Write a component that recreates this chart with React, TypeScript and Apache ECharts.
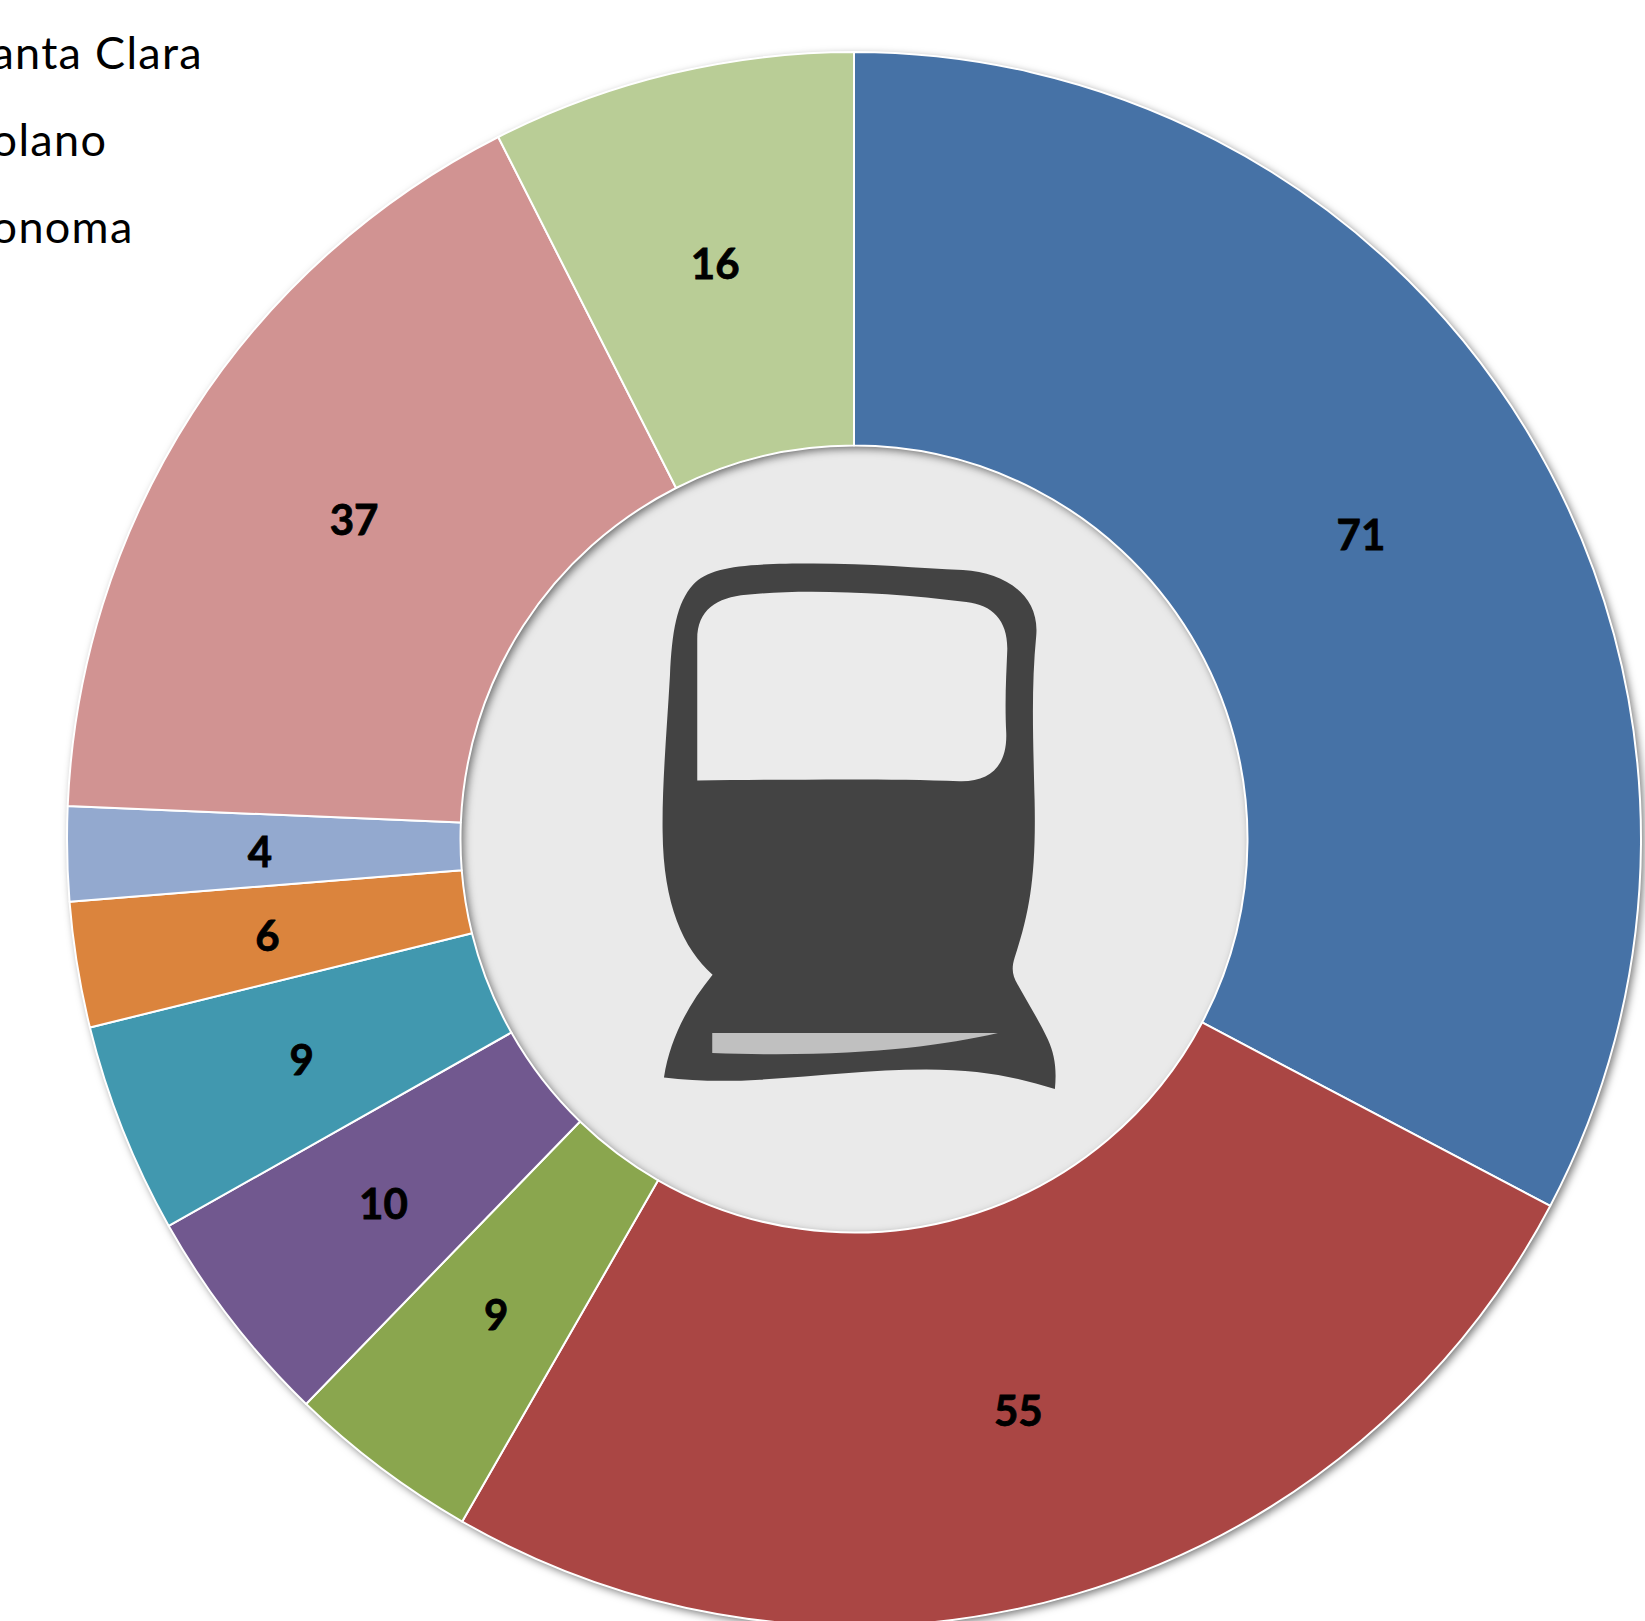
import React, { useEffect, useRef } from "react";
import * as echarts from "echarts";

const categories = ["Alameda", "Contra Costa", "Marin", "Napa", "San Francisco", "San Mateo", "Santa Clara", "Solano", "Sonoma"];
const values = [71, 55.49, 8.6, 9.9, 9.4, 5.6, 4.2, 36.6, 16.2];
const colors = ["#4672A6", "#AA4644", "#8AA64E", "#71588F", "#4198AF", "#DB843D", "#93A9CF", "#D19392", "#B9CD96"];
const legendEntries = ["Santa Clara", "Solano", "Sonoma"];

const bodyPath =
  "M132 1504C150 1400 200 1310 278 1222C190 1150 130 1030 128 830C126 700 140 560 150 400C156 280 170 200 220 150C270 100 380 92 580 92C750 92 900 105 1030 110C1160 118 1260 180 1250 290C1235 430 1240 560 1245 740C1250 950 1230 1050 1185 1175C1175 1205 1178 1225 1195 1250C1225 1300 1260 1350 1285 1400C1305 1440 1312 1480 1306 1536C1200 1505 1090 1482 920 1482C750 1482 600 1500 420 1510C320 1516 220 1514 132 1504Z";
const windowPath =
  "M232 688L232 300C232 220 290 185 380 178C540 162 800 170 1040 198C1120 206 1165 250 1163 330C1160 400 1155 470 1160 560C1162 650 1110 692 1020 690C800 682 500 686 232 688Z";
const stripePath = "M277 1382L1135 1382C950 1420 700 1450 277 1437Z";

echarts.graphic.registerShape("trainBody", echarts.graphic.extendPath(bodyPath, {}));
echarts.graphic.registerShape("trainWindow", echarts.graphic.extendPath(windowPath, {}));
echarts.graphic.registerShape("trainStripe", echarts.graphic.extendPath(stripePath, {}));

export default function App() {
  const ref = useRef<HTMLDivElement>(null);
  useEffect(() => {
    document.body.style.margin = "0";
    const chart = echarts.init(ref.current!, null, { renderer: "svg" });
    const shape = (type: string, fill: string) => ({
      type,
      x: 620,
      y: 530,
      scaleX: 1 / 3,
      scaleY: 570 / 1568,
      z: 100,
      style: { fill },
    });
    const center = [854, 839];
    const radius = [393.5, 787];
    chart.setOption({
      animation: false,
      backgroundColor: "#ffffff",
      color: colors,
      legend: {
        show: true,
        data: legendEntries,
        orient: "vertical",
        left: -75,
        top: 24,
        itemWidth: 30,
        itemHeight: 30,
        itemGap: 42,
        icon: "rect",
        selectedMode: false,
        textStyle: { fontFamily: "Lato", fontSize: 45, color: "#000000" },
      },
      series: [
        {
          type: "pie",
          z: 2,
          silent: true,
          center,
          radius,
          label: { show: false },
          labelLine: { show: false },
          data: [{ value: 1, name: "ring" }],
          itemStyle: {
            color: "#ffffff",
            shadowBlur: 8,
            shadowColor: "rgba(0,0,0,0.55)",
            shadowOffsetX: 3,
            shadowOffsetY: 3,
          },
        },
        {
          type: "pie",
          z: 3,
          center,
          radius,
          startAngle: 90,
          clockwise: true,
          avoidLabelOverlap: false,
          data: categories.map((name, i) => ({ name, value: values[i] })),
          itemStyle: { borderColor: "#ffffff", borderWidth: 2 },
          label: {
            show: true,
            position: "inside",
            formatter: (p: any) => String(Math.round(p.value)),
            fontFamily: "Lato",
            fontWeight: "bold",
            fontSize: 42,
            color: "#000000",
            textBorderColor: "#000000",
            textBorderWidth: 0.8,
            offset: [-1, 1],
          },
          labelLine: { show: false },
          emphasis: { disabled: true },
        },
      ],
      graphic: [
        {
          type: "circle",
          shape: { cx: center[0], cy: center[1], r: 395 },
          z: 1,
          zlevel: 0,
          style: { fill: "#EAEAEA" },
        },
        shape("trainBody", "#434343"),
        shape("trainWindow", "#EBEBEB"),
        shape("trainStripe", "#C0C0C0"),
      ],
    });
    return () => chart.dispose();
  }, []);
  return (
    <>
      <style>{`svg text[style*="45px"]{letter-spacing:1.3px}`}</style>
      <div ref={ref} style={{ width: 1645, height: 1621, overflow: "hidden" }} />
    </>
  );
}
